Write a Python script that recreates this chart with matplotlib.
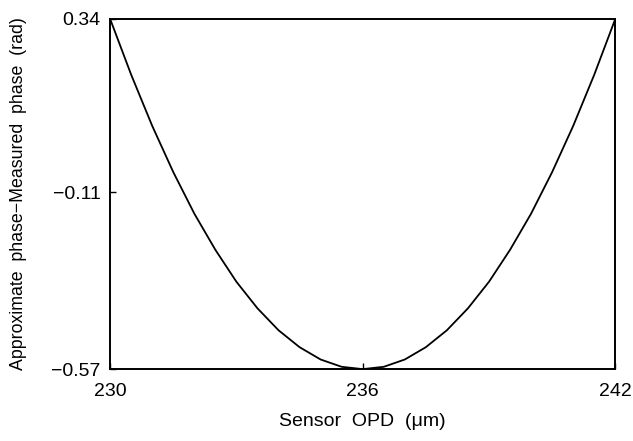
import matplotlib.pyplot as plt

# sensor OPD (um) and phase difference (rad)
opd = [230.0, 230.5, 231.0, 231.5, 232.0, 232.5, 233.0, 233.5, 234.0, 234.5,
       235.0, 235.5, 236.0, 236.5, 237.0, 237.5, 238.0, 238.5, 239.0, 239.5,
       240.0, 240.5, 241.0, 241.5, 242.0]
phase_diff = [0.34, 0.195, 0.062, -0.058, -0.166, -0.260, -0.343, -0.412, -0.469, -0.513,
              -0.545, -0.564, -0.57, -0.564, -0.545, -0.513, -0.469, -0.412, -0.343, -0.260,
              -0.166, -0.058, 0.062, 0.195, 0.34]

x_ticks = [230, 236, 242]
y_ticks = [-0.57, -0.11, 0.34]
y_tick_labels = ['\u22120.57', '\u22120.11', '0.34']

plt.rcParams['font.family'] = ['Liberation Sans', 'DejaVu Sans']

fig = plt.figure(figsize=(6.33, 4.41), dpi=100)
ax = fig.add_axes([0.174, 0.163, 0.798, 0.794])

ax.plot(opd, phase_diff, color='black', linewidth=1.3)

ax.set_xlim(230, 242)
ax.set_ylim(-0.57, 0.34)
ax.set_xticks(x_ticks)
ax.set_xticklabels([str(t) for t in x_ticks])
ax.set_yticks(y_ticks)
ax.set_yticklabels(y_tick_labels)
ax.tick_params(direction='in', length=4, width=1.0, labelsize=14, pad=7)
ax.tick_params(axis='x', pad=10)

for s in ax.spines.values():
    s.set_linewidth(1.4)

ax.set_xlabel('Sensor  OPD  (\u03bcm)', fontsize=14, labelpad=9)
ax.set_ylabel('Approximate  phase\u2212Measured  phase  (rad)', fontsize=12.8, labelpad=17)

fig.savefig('out.png', dpi=100)
